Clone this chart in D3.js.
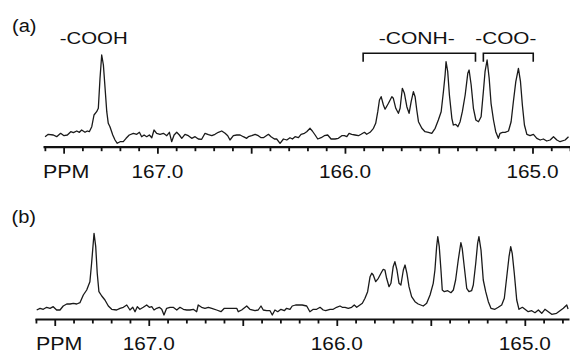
<!DOCTYPE html>
<html>
<head>
<meta charset="utf-8">
<script src="https://cdn.jsdelivr.net/npm/d3@7"></script>
<style>
  html, body { margin: 0; padding: 0; background: #fff; }
  svg { display: block; }
  text { font-family: "Liberation Sans", Arial, Helvetica, sans-serif; fill: #111; }
</style>
</head>
<body>
<svg id="chart" width="570" height="353"></svg>
<script>
// 13C NMR carbonyl region, two samples (a) and (b); chemical shift in ppm, intensity in arbitrary units
const ppmA = [167.599,167.582,167.555,167.537,167.516,167.498,167.480,167.462,167.448,167.430,167.416,167.404,167.386,167.374,167.363,167.350,167.338,167.324,167.315,167.306,167.297,167.288,167.279,167.270,167.262,167.253,167.238,167.226,167.214,167.199,167.182,167.167,167.150,167.128,167.110,167.096,167.084,167.071,167.057,167.043,167.030,167.018,167.004,166.986,166.968,166.950,166.936,166.924,166.911,166.897,166.883,166.870,166.853,166.835,166.817,166.799,166.782,166.764,166.746,166.728,166.710,166.693,166.675,166.657,166.639,166.625,166.613,166.595,166.577,166.559,166.542,166.524,166.515,166.497,166.479,166.462,166.447,166.435,166.408,166.394,166.376,166.364,166.346,166.328,166.310,166.293,166.280,166.266,166.248,166.234,166.216,166.204,166.186,166.174,166.159,166.145,166.127,166.110,166.092,166.074,166.053,166.035,166.017,166.003,165.990,165.978,165.964,165.946,165.928,165.914,165.896,165.884,165.866,165.848,165.836,165.825,165.816,165.807,165.795,165.786,165.768,165.750,165.742,165.729,165.715,165.706,165.694,165.683,165.670,165.658,165.647,165.635,165.626,165.617,165.608,165.590,165.573,165.555,165.537,165.519,165.502,165.487,165.475,165.466,165.461,165.452,165.443,165.430,165.422,165.409,165.398,165.386,165.374,165.359,165.345,165.338,165.327,165.315,165.302,165.288,165.274,165.262,165.253,165.242,165.231,165.221,165.208,165.196,165.182,165.173,165.160,165.146,165.128,165.114,165.102,165.089,165.075,165.064,165.054,165.043,165.030,165.013,164.995,164.977,164.959,164.942,164.924,164.906,164.888,164.870,164.853,164.826,164.808];
const intA = [10,12.4,11.7,10,13.4,11,11.7,15,14,15.7,14.4,16.7,14.4,15.7,15,20,31.7,35,38.4,68.4,91.7,81.7,58.4,35,23.4,20,11.7,6.7,3.4,5,5,8.4,11.7,13.4,12.4,14.4,10,11.7,10,11.7,9,16.7,13.4,12.4,13.4,11,14.4,5,11.7,14.4,11.7,8.4,12.4,11,8.4,10,7.7,7.4,13.4,12,11,12.4,14.4,15.7,13.4,11,6.7,11,11.7,11.7,10,8.4,10,11,12.4,11,9,9,12.4,10,7.7,7.7,3.4,7.7,6.7,9,7.7,10,9,12.4,13.4,15,18.4,15.7,11.7,7.7,9,11,11.7,7.7,7.7,8.4,11,11,10,13.4,12.4,11.7,11,12.4,14.4,12.4,14.4,18.4,23.4,35,46.7,50,41.7,37.5,43.4,50,48.4,38.4,33.4,38.4,58.4,53.4,40,33.4,45,55,50,36.7,25,18.4,15,14.4,13.4,18.4,26.7,35,55,71.7,85,75,51.7,28.4,21.7,22.4,20,25,35,51.7,73.4,76.7,61.7,38.4,26.7,25,30,55,75,86.7,68.4,43.4,26.7,15,8.4,13.4,14.4,14.4,15.7,25,45,65,78.4,65,41.7,21.7,12.4,11,12.4,8.4,6.7,7.7,5.7,6.7,10,6.7,5,6.7,10];

const ppmB = [167.596,167.578,167.561,167.543,167.525,167.508,167.490,167.472,167.455,167.436,167.419,167.401,167.383,167.366,167.348,167.330,167.313,167.304,167.291,167.282,167.274,167.265,167.250,167.233,167.215,167.197,167.171,167.153,167.135,167.117,167.100,167.085,167.073,167.061,167.047,167.029,167.011,166.997,166.984,166.972,166.958,166.944,166.931,166.919,166.905,166.887,166.870,166.851,166.834,166.816,166.798,166.781,166.763,166.745,166.737,166.719,166.701,166.683,166.665,166.639,166.616,166.598,166.577,166.550,166.532,166.524,166.506,166.479,166.462,166.435,166.418,166.403,166.391,166.373,166.355,166.343,166.329,166.314,166.297,166.279,166.267,166.249,166.237,166.219,166.201,166.184,166.160,166.143,166.125,166.107,166.089,166.072,166.059,166.036,166.019,166.001,165.983,165.971,165.956,165.939,165.921,165.907,165.894,165.877,165.864,165.850,165.836,165.823,165.814,165.806,165.793,165.779,165.765,165.753,165.744,165.735,165.722,165.712,165.700,165.691,165.680,165.669,165.659,165.646,165.637,165.627,165.616,165.602,165.584,165.567,165.540,165.522,165.504,165.487,165.478,165.469,165.463,165.455,165.446,165.439,165.428,165.410,165.393,165.380,165.368,165.354,165.340,165.333,165.322,165.309,165.297,165.283,165.274,165.261,165.251,165.244,165.233,165.221,165.208,165.194,165.180,165.159,165.141,165.123,165.109,165.096,165.084,165.075,165.067,165.056,165.043,165.031,165.013,164.999,164.982,164.963,164.946,164.928,164.910,164.893,164.875,164.857,164.831,164.813,164.795,164.777,164.770];
const intB = [9,10.7,9.7,11.7,10.7,12.3,9,9,13,15,15,15.7,15,16.3,24,29,37.3,55.7,85.7,72.3,45.7,27.3,23,19,13,9.7,9,10.7,11.7,14,9,11.7,7.3,12.3,9.7,11.7,14,11.7,12.3,9,10.7,11.7,9.7,4,10.7,11.7,11.7,9,11.7,9.7,9,9,9.7,7.3,14,11.7,10.7,11.7,10.7,9,7.3,10.7,10.7,10.7,10.7,7.3,9,13,9.7,8.3,9,13,9,8.3,8.3,4,9,7.3,9.7,8.3,10.7,9.7,13,14,14,14,13,7.3,9.7,9.7,11.7,9,8.3,9.7,9.7,11.7,13,11.7,11.7,10.7,11.7,14,11.7,14,15.7,20.7,27.3,42.3,45.7,44,37.3,40.7,45.7,49.7,49,40.7,32.3,35.7,52.3,57.3,49,35.7,34,49,54,45.7,32.3,22.3,17.3,15,13,15.7,24,35.7,49,72.3,82.3,72.3,49,29,27.3,28.3,26.3,29,39,59,76.3,70.7,52.3,30.7,27.3,28.3,34,55.7,75.7,82.3,69,39,27.3,17.3,10.7,9.7,11.7,14,20.7,42.3,62.3,72.3,65.7,45.7,19,9.7,11.7,9.7,7.3,8.3,6.3,9,5.7,9.7,7.3,4.7,5.7,8.3,10.7,14,10];

const panelLabels = ["(a)", "(b)"];
const axisTitle = "PPM";
const majorTicks = [167.5, 167.0, 166.5, 166.0, 165.5, 165.0];
const minorTicks = [167.6,167.4,167.3,167.2,167.1,166.9,166.8,166.7,166.6,166.4,166.3,166.2,166.1,165.9,165.8,165.7,165.6,165.4,165.3,165.2,165.1,164.9,164.8];
const labelledTicks = [167.0, 166.0, 165.0];
const tickLabels = ["167.0", "166.0", "165.0"];

// assignment annotations (panel a only)
const peakLabel = "-COOH";
const peakLabelPpm = 167.297;
const groupLabels = ["-CONH-", "-COO-"];
const groupRanges = [[165.903, 165.304], [165.262, 164.996]];

const svg = d3.select("#chart");
svg.append("rect").attr("width", 570).attr("height", 353).attr("fill", "#fff");

const panels = [
  { key: "a", ppm: ppmA, intensity: intA, domain: [167.61, 164.80], range: [43, 570], axisY: 146.7,
    label: panelLabels[0], labelX: 12, labelY: 31.5, titleX: 43 },
  { key: "b", ppm: ppmB, intensity: intB, domain: [167.605, 164.765], range: [35, 569], axisY: 319,
    label: panelLabels[1], labelX: 11.5, labelY: 222.5, titleX: 36 }
];

panels.forEach(p => {
  const g = svg.append("g").attr("class", "panel-" + p.key);
  const x = d3.scaleLinear().domain(p.domain).range(p.range);
  const y = d3.scaleLinear().domain([0, 100]).range([p.axisY, p.axisY - 100]);

  // spectrum trace
  const line = d3.line()
    .x((d, i) => x(p.ppm[i]))
    .y(d => y(d))
    .curve(d3.curveLinear);
  g.append("path")
    .attr("d", line(p.intensity))
    .attr("fill", "none")
    .attr("stroke", "#1a1a1a")
    .attr("stroke-width", 1.3)
    .attr("stroke-linejoin", "round");

  // minor ticks
  const minorAxis = d3.axisBottom(x).tickValues(minorTicks).tickSize(4.5).tickSizeOuter(0).tickFormat("");
  const gm = g.append("g").attr("transform", `translate(0,${p.axisY})`).call(minorAxis);
  gm.select(".domain").remove();
  gm.selectAll(".tick line").attr("stroke", "#111").attr("stroke-width", 1.8);

  // major ticks with axis line
  const majorAxis = d3.axisBottom(x).tickValues(majorTicks).tickSize(7).tickSizeOuter(0).tickFormat("");
  const gM = g.append("g").attr("transform", `translate(0,${p.axisY})`).call(majorAxis);
  gM.select(".domain").attr("stroke", "#111").attr("stroke-width", 2.2);
  gM.selectAll(".tick line").attr("stroke", "#111").attr("stroke-width", 1.8);

  // tick labels
  g.selectAll("text.tl").data(labelledTicks).enter().append("text")
    .attr("class", "tl")
    .attr("x", d => x(d))
    .attr("y", p.axisY + 31.3)
    .attr("text-anchor", "middle")
    .attr("font-size", 19)
    .attr("textLength", 52)
    .attr("lengthAdjust", "spacingAndGlyphs")
    .text((d, i) => tickLabels[i]);

  g.append("text")
    .attr("x", p.titleX)
    .attr("y", p.axisY + 31.3)
    .attr("font-size", 19)
    .attr("textLength", 46.5)
    .attr("lengthAdjust", "spacingAndGlyphs")
    .text(axisTitle);

  // panel label
  g.append("text")
    .attr("x", p.labelX)
    .attr("y", p.labelY)
    .attr("font-size", 17.5)
    .attr("textLength", 24.5)
    .attr("lengthAdjust", "spacingAndGlyphs")
    .text(p.label);

  if (p.key === "a") {
    g.append("text")
      .attr("x", x(peakLabelPpm) - 8)
      .attr("y", 44)
      .attr("text-anchor", "middle")
      .attr("font-size", 17)
      .attr("textLength", 68)
      .attr("lengthAdjust", "spacingAndGlyphs")
      .text(peakLabel);

    const lens = [76, 61];
    groupRanges.forEach((r, i) => {
      const x0 = x(r[0]), x1 = x(r[1]);
      g.append("path")
        .attr("d", `M${x0},61.7 V53.3 H${x1} V61.7`)
        .attr("fill", "none")
        .attr("stroke", "#111")
        .attr("stroke-width", 1.6);
      g.append("text")
        .attr("x", (x0 + x1) / 2 - 2.5)
        .attr("y", 43.5)
        .attr("text-anchor", "middle")
        .attr("font-size", 17)
        .attr("textLength", lens[i])
        .attr("lengthAdjust", "spacingAndGlyphs")
        .text(groupLabels[i]);
    });
  }
});
</script>
</body>
</html>
